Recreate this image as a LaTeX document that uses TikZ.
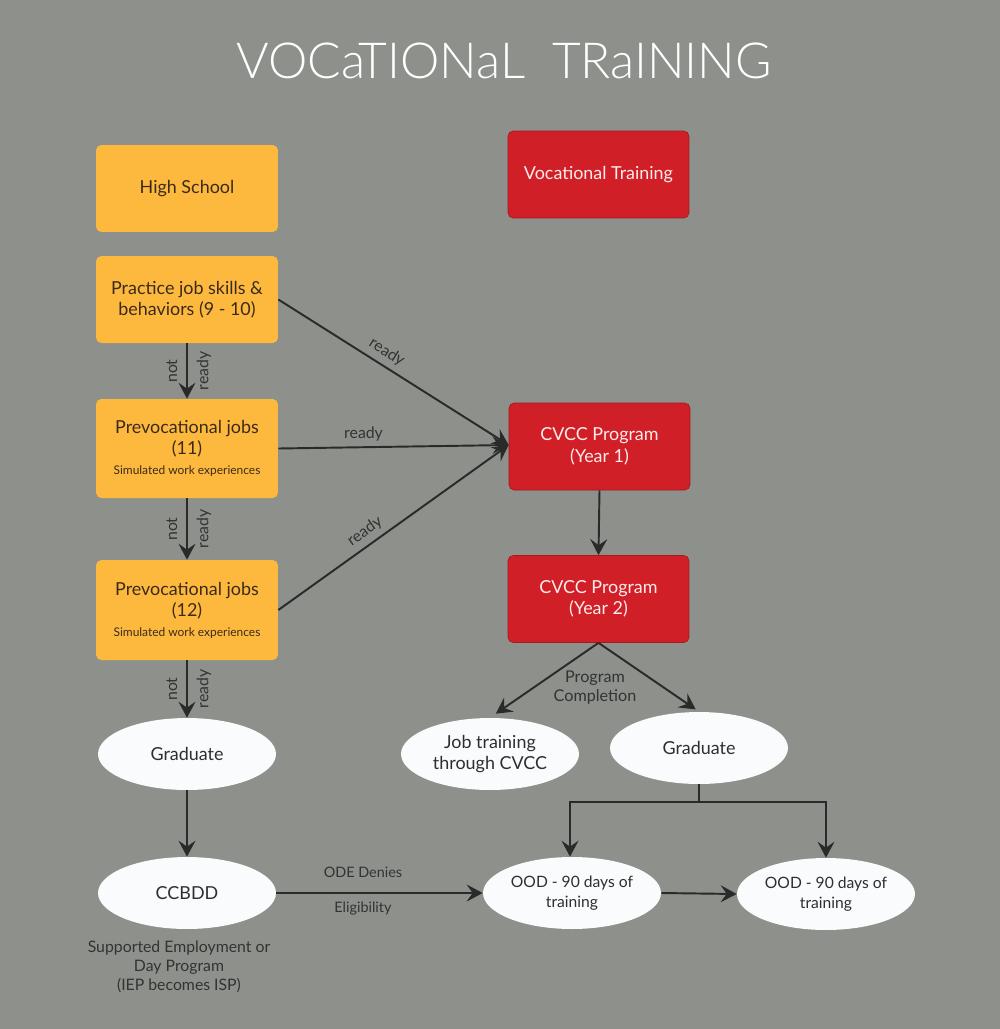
\documentclass[tikz,border=0pt]{standalone}
\usepackage{fontspec}
\setmainfont{Lato}
\newfontfamily\titlefont{Lato Light}
\usetikzlibrary{arrows.meta,positioning,shapes.geometric}

\definecolor{bggray}{HTML}{8D908B}
\definecolor{boxorange}{HTML}{FDB93D}
\definecolor{boxred}{HTML}{D01F27}
\definecolor{ovalwhite}{HTML}{FAFBFD}
\definecolor{linedark}{HTML}{2A2A2A}
\definecolor{textbrown}{HTML}{3B2A1C}
\definecolor{textdark}{HTML}{2E2E2E}
\definecolor{labelgray}{HTML}{333333}

\newcommand{\smallline}{\fontsize{6.8}{8}\selectfont}

\tikzset{
  orangebox/.style={rectangle, rounded corners=3pt, fill=boxorange, text=textbrown,
    minimum width=3.64cm, minimum height=1.74cm, align=center, inner sep=0pt,
    font=\fontsize{10.2}{12.2}\selectfont},
  redbox/.style={rectangle, rounded corners=3pt, fill=boxred, draw=boxred!80!black, line width=0.4pt,
    text=white!92!red, minimum width=3.62cm, minimum height=1.74cm, align=center, inner sep=0pt,
    font=\fontsize{10.2}{12.2}\selectfont},
  oval/.style={ellipse, fill=ovalwhite, text=textdark, minimum width=3.56cm, minimum height=1.44cm,
    align=center, inner sep=-4pt, font=\fontsize{10.2}{12.2}\selectfont},
  oodoval/.style={oval, inner sep=-6pt, font=\fontsize{8.9}{11.4}\selectfont},
  flow/.style={draw=linedark, line width=1.1pt, -{Stealth[length=3.2mm, width=3.4mm, inset=1.2mm]}},
  edgetext/.style={text=labelgray, font=\fontsize{8.2}{10}\selectfont, inner sep=2pt},
  sidetext/.style={text=labelgray, font=\fontsize{9}{10}\selectfont, inner sep=5pt}
}

\begin{document}
\begin{tikzpicture}[x=0.02cm, y=-0.02cm]
  % canvas
  \fill[bggray] (0,0) rectangle (1000,1029);
  \useasboundingbox (0,0) rectangle (1000,1029);

  \node[text=white, font=\titlefont\fontsize{28.3}{30}\selectfont] (title) at (504,61) {VOCaTIONaL\ \ TRaINING};

  % left column
  \node[orangebox] (highschool) at (187,188.5) {High School};
  \node[orangebox] (practice) at (187,299.5) {Practice job skills \&\\behaviors (9 - 10)};
  \node[orangebox, minimum height=1.98cm] (prevoc11) at (187,448.5) {Prevocational jobs\\(11)\\[-1pt]{\smallline Simulated work experiences}};
  \node[orangebox, minimum height=2cm] (prevoc12) at (187,610) {Prevocational jobs\\(12)\\[-1pt]{\smallline Simulated work experiences}};
  \node[oval] (gradleft) at (187,754) {Graduate};
  \node[oval] (ccbdd) at (187,893) {CCBDD};
  \node[text=labelgray, align=center, font=\fontsize{9}{10.8}\selectfont] (support) at (179,967) {Supported Employment or\\Day Program\\(IEP becomes ISP)};

  % right column
  \node[redbox] (voctrain) at (598.5,174.5) {Vocational Training};
  \node[redbox] (cvccone) at (599.5,446.5) {CVCC Program\\(Year 1)};
  \node[redbox] (cvcctwo) at (598.5,599) {CVCC Program\\(Year 2)};
  \node[oval] (jobtrain) at (490,754) {Job training\\through CVCC};
  \node[oval] (gradright) at (699,748) {Graduate};
  \node[oodoval] (oodone) at (572,893) {OOD - 90 days of\\training};
  \node[oodoval] (oodtwo) at (826,894) {OOD - 90 days of\\training};

  % not ready steps
  \foreach \upper/\lower in {practice/prevoc11, prevoc11/prevoc12, prevoc12/gradleft}{
    \draw[flow] (\upper.south) -- (\lower.north)
      node[sidetext, midway, rotate=90, anchor=south] {not}
      node[sidetext, midway, rotate=90, anchor=north] {ready};
  }

  % ready paths
  \coordinate (cvccin) at ([yshift=0.03cm]cvccone.west);
  \draw[flow] (practice.east) -- (cvccin) node[sidetext, inner sep=3pt, sloped, above, pos=0.44] {ready};
  \draw[flow] (prevoc11.east) -- (cvccin) node[sidetext, inner sep=3pt, above, pos=0.37] {ready};
  \draw[flow] (prevoc12.east) -- (cvccin) node[sidetext, inner sep=3pt, sloped, above, pos=0.41] {ready};

  \draw[flow] (gradleft.south) -- (ccbdd.north);
  \draw[flow] (ccbdd.east) -- (oodone.west)
    node[edgetext, pos=0.42, yshift=12pt] {ODE Denies}
    node[edgetext, pos=0.42, yshift=-9pt] {Eligibility};

  \draw[flow] (cvccone.south) -- (cvcctwo.north);
  \draw[flow, shorten >=0.14cm] (cvcctwo.south) -- (jobtrain.north);
  \draw[flow, shorten >=0.08cm] (cvcctwo.south) -- (gradright.north);
  \node[text=labelgray, align=center, font=\fontsize{9.2}{10.8}\selectfont] (completion) at (595,688) {Program\\Completion};

  \draw[flow] (gradright.south) -- ++(0,18) -| ([xshift=-0.04cm]oodone.north);
  \draw[flow] (gradright.south) -- ++(0,18) -| (oodtwo.north);
  \draw[flow] (oodone.east) -- (oodtwo.west);
\end{tikzpicture}
\end{document}
